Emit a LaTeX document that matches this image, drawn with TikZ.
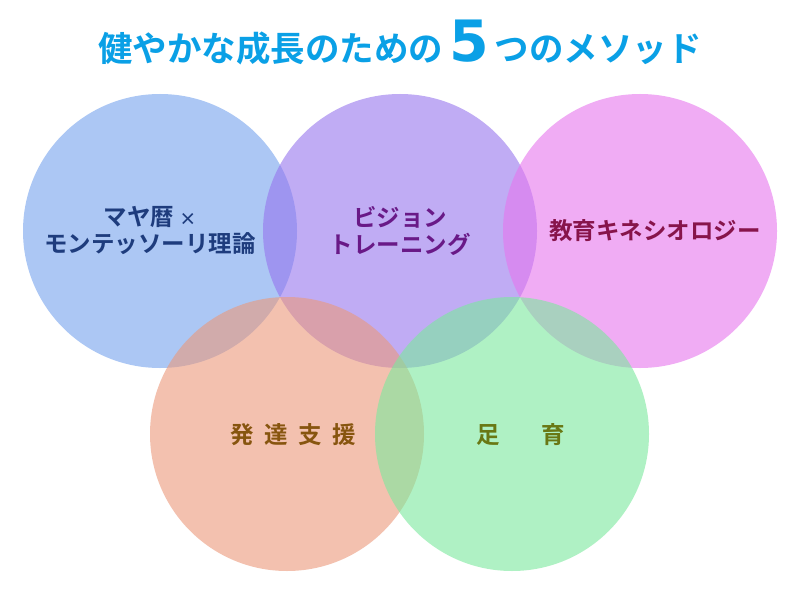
\documentclass[tikz,border=0pt]{standalone}
\usepackage{fontspec}
\newfontfamily\jp{Noto Sans CJK JP}[BoldFont={Noto Sans CJK JP Bold}]
\newfontfamily\numfont{DejaVu Sans}
\definecolor{cA}{RGB}{117,163,238}
\definecolor{cB}{RGB}{150,117,238}
\definecolor{cC}{RGB}{230,117,238}
\definecolor{cD}{RGB}{235,153,123}
\definecolor{cE}{RGB}{123,233,157}
\definecolor{tA}{RGB}{30,60,125}
\definecolor{tB}{RGB}{105,25,135}
\definecolor{tC}{RGB}{135,20,75}
\definecolor{tD}{RGB}{135,85,15}
\definecolor{tE}{RGB}{105,120,20}
\definecolor{ttl}{RGB}{10,160,230}
\tikzset{
  ring/.style={circle,minimum size=274pt,inner sep=0pt,fill opacity=0.6,draw=none},
  lbl/.style={font=\jp\bfseries\fontsize{23.5}{27}\selectfont,align=center}
}
\begin{document}
\begin{tikzpicture}[x=1pt,y=-1pt]
\useasboundingbox[fill=white] (0,0) rectangle (800,591);
\node[ring,fill=cA] (c1) at (160,231) {};
\node[ring,fill=cB] (c2) at (400,231) {};
\node[ring,fill=cC] (c3) at (640,231) {};
\node[ring,fill=cD] (c4) at (287,434) {};
\node[ring,fill=cE] (c5) at (512,434) {};
\node[lbl,text=tA] (t1) at (150,231) {マヤ暦 {\fontsize{17}{20}\selectfont ×}\\モンテッソーリ理論};
\node[lbl,text=tB] (t2) at (400,231) {ビジョン\\トレーニング};
\node[lbl,text=tC] (t3) at (655,231) {教育キネシオロジー};
\node[lbl,text=tD] (t4) at (293,435) {発\hspace{0.45em}達\hspace{0.45em}支\hspace{0.45em}援};
\node[lbl,text=tE] (t5) at (521,435) {足\hspace{1.75em}育};
\node[font=\jp\bfseries\fontsize{34.5}{40}\selectfont,text=ttl,inner sep=0pt] (title) at (400,42)
  {健やかな成長のための\,{\numfont\bfseries\fontsize{57}{60}\selectfont 5}\,つのメソッド};
\end{tikzpicture}
\end{document}
